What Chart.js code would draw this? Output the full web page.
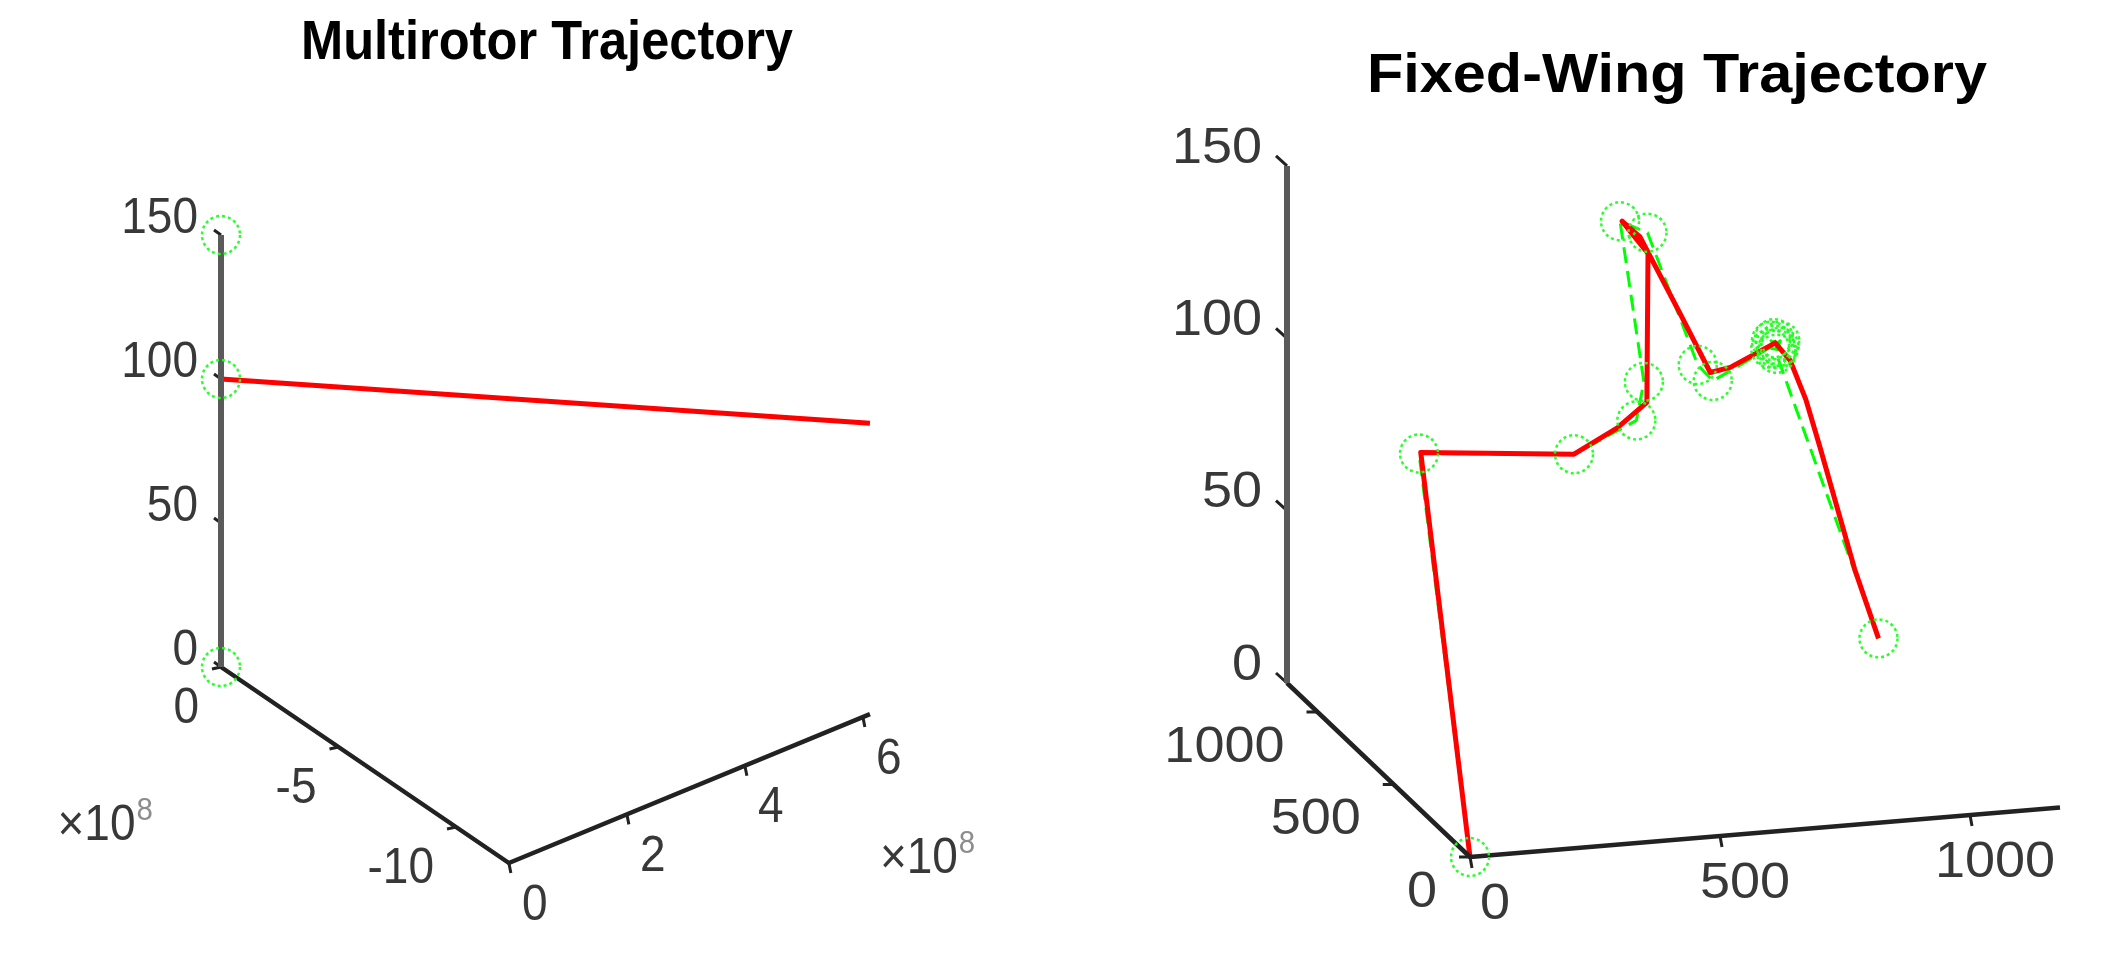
<!DOCTYPE html>
<html>
<head>
<meta charset="utf-8">
<title>Multirotor and Fixed-Wing Trajectories</title>
<script src="https://cdn.jsdelivr.net/npm/chart.js@4.4.1/dist/chart.umd.min.js"></script>
<style>
  html, body { margin: 0; padding: 0; background: #ffffff; overflow: hidden; }
  #stage { position: relative; width: 2101px; height: 962px; }
  #stage canvas { position: absolute; top: 0; }
  #mr { left: 0; }
  #fw { left: 1050px; }
</style>
</head>
<body>
<div id="stage">
  <canvas id="mr" width="1050" height="962"></canvas>
  <canvas id="fw" width="1051" height="962"></canvas>
</div>
<script>
// ---------- Multirotor: waypoints and flown path (x, y, altitude) ----------
const mrWaypointX = [0, 0, 0];
const mrWaypointY = [0, 0, 0];
const mrWaypointZ = [0, 100, 150];
const mrFlownX = [0, 6.12e8];
const mrFlownY = [0, -12.25e8];
const mrFlownZ = [100, 101];
const mrXLimits = [0, 6.12e8];
const mrYLimits = [-12.25e8, 0];
const mrZLimits = [0, 150];
const mrXTicks = [0, 2e8, 4e8, 6e8];
const mrXTickLabels = ['0', '2', '4', '6'];
const mrYTicks = [0, -5e8, -10e8];
const mrYTickLabels = ['0', '-5', '-10'];
const mrZTicks = [0, 50, 100, 150];
const mrZTickLabels = ['0', '50', '100', '150'];
const mrExponent = '8';

// ---------- Fixed-wing: waypoints and flown path (x, y, altitude) ----------
const fwWaypointX = [0, 20, 330, 470, 485, 605, 660, 730, 760, 885, 878, 892, 882, 889, 875, 895, 886, 1000];
const fwWaypointY = [0, 400, 400, 450, 450, 1000, 1000, 900, 900, 900, 905, 895, 898, 902, 900, 900, 896, 600];
const fwWaypointZ = [0, 100, 96, 102, 113, 135, 131, 96, 91, 100, 101, 99.5, 102, 98.5, 99, 101, 97.5, 26];
const fwFlownX = [0, 25, 330, 422, 491, 661, 609, 645, 710, 755, 795, 885, 915, 931, 944, 983, 1000];
const fwFlownY = [0, 405, 400, 420, 450, 1000, 1000, 1000, 950, 900, 900, 900, 900, 850, 800, 700, 600];
const fwFlownZ = [0, 100, 96, 101.6, 107, 125, 135, 130, 109, 93.5, 94.5, 100.5, 95, 85.6, 73.7, 42, 26];
const fwXLimits = [0, 1180];
const fwYLimits = [0, 1200];
const fwZLimits = [0, 150];
const fwXTicks = [0, 500, 1000];
const fwXTickLabels = ['0', '500', '1000'];
const fwYTicks = [0, 500, 1000];
const fwYTickLabels = ['0', '500', '1000'];
const fwZTicks = [0, 50, 100, 150];
const fwZTickLabels = ['0', '50', '100', '150'];

// ---------- View geometry (fixed 3-D camera projected onto the page) ----------
const PAGE_H = 962;
const FONT = '"Liberation Sans", Arial, Helvetica, sans-serif';

const mrView = {
  left: 0, width: 1050,
  origin: [221, 667],
  ex: [59e-8, -24.33e-8],
  ey: [-23.5e-8, -16.0e-8],
  ez: [0, -2.88],
  stretch: 0.92,
  xTickVec: [2, 10], yTickVec: [-9, 2], zTickVec: [-7, -5],
  xLabelOff: [26, 43], yLabelOff: [-22, 42], zLabelOff: [-23, -16],
  title: 'Multirotor Trajectory', titlePos: [547, 59]
};

const fwView = {
  left: 1050, width: 1051,
  origin: [1470, 857],
  ex: [0.5, -0.042],
  ey: [-0.1525, -0.145],
  ez: [0, -3.447],
  stretch: 1.08,
  xTickVec: [2, 11], yTickVec: [-11, 0], zTickVec: [-11, -10],
  xLabelOff: [25, 48], yLabelOff: [-33, 36], zLabelOff: [-25, -17],
  title: 'Fixed-Wing Trajectory', titlePos: [1677, 92]
};

function project(view, x, y, z) {
  return {
    x: view.origin[0] + view.ex[0] * x + view.ey[0] * y + view.ez[0] * z - view.left,
    y: view.origin[1] + view.ex[1] * x + view.ey[1] * y + view.ez[1] * z
  };
}

function path3d(view, xs, ys, zs) {
  return xs.map((x, i) => project(view, x, ys[i], zs[i]));
}

// Dotted outlines for waypoint markers
const markerDashPlugin = {
  id: 'markerDash',
  beforeDatasetDraw(chart, args) {
    const ds = chart.data.datasets[args.index];
    if (ds.markerDash) { chart.ctx.save(); chart.ctx.setLineDash(ds.markerDash); }
  },
  afterDatasetDraw(chart, args) {
    const ds = chart.data.datasets[args.index];
    if (ds.markerDash) chart.ctx.restore();
  }
};

// Tick labels, titles and exponent labels placed through the chart scales
const axisTextPlugin = {
  id: 'axisText',
  afterDatasetsDraw(chart, args, opts) {
    const ctx = chart.ctx;
    const sx = chart.scales.x, sy = chart.scales.y;
    for (const t of opts.items) {
      const px = sx.getPixelForValue(t.x);
      const py = sy.getPixelForValue(t.y);
      ctx.save();
      ctx.translate(px, py);
      ctx.scale(opts.stretch, 1);
      ctx.font = (t.weight || 'normal') + ' ' + t.size + 'px ' + FONT;
      ctx.fillStyle = t.color;
      ctx.textAlign = t.align || 'left';
      ctx.textBaseline = t.baseline || 'middle';
      ctx.fillText(t.text, 0, 0);
      if (t.sup) {
        const w = ctx.measureText(t.text).width;
        ctx.font = t.supSize + 'px ' + FONT;
        ctx.fillStyle = t.supColor;
        ctx.fillText(t.sup, w + 1, t.supRise);
      }
      ctx.restore();
    }
  }
};

function buildPanel(canvasId, view, s) {
  const [x0, x1] = s.xLim, [y0, y1] = s.yLim, [z0, z1] = s.zLim;
  const P = (x, y, z) => project(view, x, y, z);

  const zAxis = [P(x0, y1, z0), P(x0, y1, z1)];
  const floorAxes = [P(x0, y1, 0), P(x0, y0, 0), P(x1, y0, 0)];

  const tickPts = [];
  const addTick = (p, v) => {
    tickPts.push(p, { x: p.x + v[0], y: p.y + v[1] }, { x: NaN, y: NaN });
  };
  s.xTicks.forEach(t => addTick(P(t, y0, 0), view.xTickVec));
  s.yTicks.forEach(t => addTick(P(x0, t, 0), view.yTickVec));
  s.zTicks.forEach(t => addTick(P(x0, y1, t), view.zTickVec));

  const labelColor = '#383838';
  const items = [];
  s.zTicks.forEach((t, i) => {
    const p = P(x0, y1, t);
    items.push({ text: s.zLabels[i], x: p.x + view.zLabelOff[0], y: p.y + view.zLabelOff[1],
      size: 50, color: labelColor, align: 'right' });
  });
  s.yTicks.forEach((t, i) => {
    const p = P(x0, t, 0);
    items.push({ text: s.yLabels[i], x: p.x + view.yLabelOff[0], y: p.y + view.yLabelOff[1],
      size: 50, color: labelColor, align: 'right' });
  });
  s.xTicks.forEach((t, i) => {
    const p = P(t, y0, 0);
    items.push({ text: s.xLabels[i], x: p.x + view.xLabelOff[0], y: p.y + view.xLabelOff[1],
      size: 50, color: labelColor, align: 'center' });
  });
  items.push({ text: view.title, x: view.titlePos[0] - view.left, y: view.titlePos[1],
    size: 55, weight: 'bold', color: '#000000', align: 'center', baseline: 'alphabetic' });
  (s.exponents || []).forEach(e => {
    items.push({ text: '\u00d710', x: e.x, y: e.y, size: 50, color: labelColor,
      align: 'left', baseline: 'alphabetic', sup: e.power, supSize: 32, supColor: '#8c8c8c', supRise: -20 });
  });

  const common = { showLine: true, pointRadius: 0, tension: 0, clip: false, spanGaps: false,
    borderJoinStyle: 'round', borderCapStyle: 'butt' };

  const datasets = [
    Object.assign({}, common, {
      label: 'Waypoints', data: path3d(view, s.wpX, s.wpY, s.wpZ), showLine: false,
      pointRadius: 19, pointStyle: 'circle', pointBorderWidth: 2.5,
      pointBorderColor: 'rgba(30,255,30,0.95)', pointBackgroundColor: 'rgba(0,0,0,0)',
      markerDash: [3, 3], order: 0
    }),
    Object.assign({}, common, {
      label: 'z axis', data: zAxis, borderColor: '#5a5a5a', borderWidth: 6, order: 1
    }),
    Object.assign({}, common, {
      label: 'floor axes', data: floorAxes, borderColor: '#222222', borderWidth: 4.5, order: 1
    }),
    Object.assign({}, common, {
      label: 'ticks', data: tickPts, borderColor: '#222222', borderWidth: 3, order: 1
    }),
    Object.assign({}, common, {
      label: 'Flown path', data: path3d(view, s.flX, s.flY, s.flZ),
      borderColor: '#ff0000', borderWidth: 5, order: 2
    }),
    Object.assign({}, common, {
      label: 'Reference path', data: path3d(view, s.wpX, s.wpY, s.wpZ),
      borderColor: '#00ff00', borderWidth: 3, borderDash: [16, 8], order: 3
    })
  ];

  return new Chart(document.getElementById(canvasId), {
    type: 'scatter',
    data: { datasets },
    options: {
      responsive: false,
      animation: false,
      devicePixelRatio: 1,
      events: [],
      layout: { padding: 0, autoPadding: false },
      scales: {
        x: { type: 'linear', min: 0, max: view.width, display: false },
        y: { type: 'linear', min: 0, max: PAGE_H, reverse: true, display: false }
      },
      plugins: {
        legend: { display: false },
        tooltip: { enabled: false },
        title: { display: false },
        axisText: { stretch: view.stretch, items }
      }
    },
    plugins: [markerDashPlugin, axisTextPlugin]
  });
}

// Exponent labels anchored to the multirotor axes
const mrYExpAnchor = project(mrView, 0, -5e8, 0);
const mrXExpAnchor = project(mrView, 6e8, mrYLimits[0], 0);

buildPanel('mr', mrView, {
  xLim: mrXLimits, yLim: mrYLimits, zLim: mrZLimits,
  xTicks: mrXTicks, xLabels: mrXTickLabels,
  yTicks: mrYTicks, yLabels: mrYTickLabels,
  zTicks: mrZTicks, zLabels: mrZTickLabels,
  wpX: mrWaypointX, wpY: mrWaypointY, wpZ: mrWaypointZ,
  flX: mrFlownX, flY: mrFlownY, flZ: mrFlownZ,
  exponents: [
    { x: mrYExpAnchor.x - 281, y: mrYExpAnchor.y + 93, power: mrExponent },
    { x: mrXExpAnchor.x + 17, y: mrXExpAnchor.y + 156, power: mrExponent }
  ]
});

buildPanel('fw', fwView, {
  xLim: fwXLimits, yLim: fwYLimits, zLim: fwZLimits,
  xTicks: fwXTicks, xLabels: fwXTickLabels,
  yTicks: fwYTicks, yLabels: fwYTickLabels,
  zTicks: fwZTicks, zLabels: fwZTickLabels,
  wpX: fwWaypointX, wpY: fwWaypointY, wpZ: fwWaypointZ,
  flX: fwFlownX, flY: fwFlownY, flZ: fwFlownZ
});
</script>
</body>
</html>
